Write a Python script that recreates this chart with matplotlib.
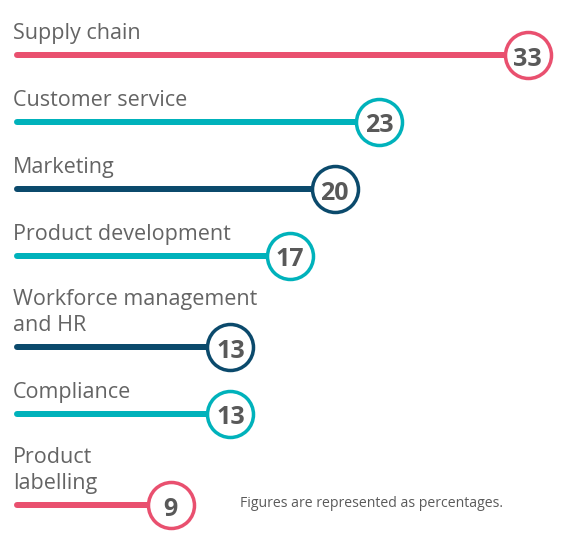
import matplotlib
matplotlib.use("Agg")
import matplotlib.pyplot as plt

# ---- data ----
categories = ["Supply chain", "Customer service", "Marketing", "Product development",
              "Workforce management\nand HR", "Compliance", "Product\nlabelling"]
values = [33, 23, 20, 17, 13, 13, 9]
color_keys = ["pink", "teal", "navy", "teal", "navy", "teal", "pink"]
note = "Figures are represented as percentages."

# ---- style / layout ----
palette = {"pink": "#E9506F", "teal": "#00B2BB", "navy": "#0B4A6C"}
W, H = 568, 541
DPI = 100
PX = 72.0 / DPI  # points per pixel
FONT = "Open Sans"

fig = plt.figure(figsize=(W / DPI, H / DPI), dpi=DPI)
ax = fig.add_axes([0, 0, 1, 1])
ax.axis("off")
# x in value units (value 0 at px 37, 14.875 px per unit); y in pixel rows
ax.set_xlim(-37 / 14.875, (W - 37) / 14.875)
ax.set_ylim(H, 0)

def px2v(px):
    return (px - 37) / 14.875

line_start = px2v(17)
label_x = px2v(13)

# row positions derived from label line counts
rows = []
y = 55
for i, c in enumerate(categories):
    if i > 0:
        y += 67 + 24 * (c.count("\n"))
    rows.append(y)

for cat, v, ck, yy in zip(categories, values, color_keys, rows):
    col = palette[ck]
    ax.plot([line_start, v], [yy, yy], color=col, lw=6 * PX,
            solid_capstyle="round", zorder=2)
    ax.scatter([v], [yy], s=(46 * PX) ** 2, facecolor="white", edgecolor=col,
               linewidth=3.5 * PX, zorder=3)
    ax.text(v, yy + 1, str(v), ha="center", va="center_baseline", fontsize=18,
            fontweight="bold", color="#595959", family=FONT, zorder=4)
    lines = cat.split("\n")
    for k, ln in enumerate(reversed(lines)):
        ax.text(label_x, yy - 16 - 26 * k, ln, ha="left", va="baseline",
                fontsize=15.5, color="#646464", family=FONT)

ax.text(px2v(240), 507, note, ha="left", va="baseline", fontsize=10.1,
        color="#5a5a5a", family=FONT)

fig.savefig("out.png", dpi=DPI)
